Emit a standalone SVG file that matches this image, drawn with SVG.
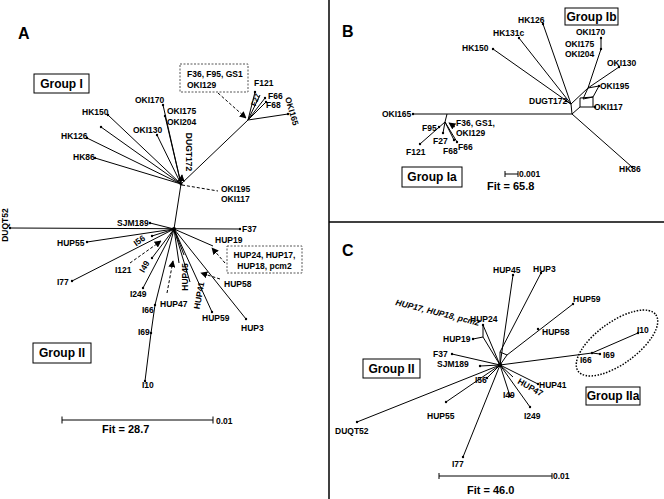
<svg xmlns="http://www.w3.org/2000/svg" width="664" height="499" viewBox="0 0 664 499">
<defs>
<style>
text{font-family:"Liberation Sans",Arial,sans-serif;font-weight:bold;fill:#000}
.l{font-size:8.5px}
.s{font-size:7.5px}
.g{font-size:12px}
.fit{font-size:11px}
.p{font-size:16px}
.e line,.e path,.e polyline,.e polygon{stroke:#000;stroke-width:1;fill:none}
.d{stroke:#000;stroke-width:1;stroke-dasharray:3,2;fill:none}
.box{fill:#fff;stroke:#000;stroke-width:1}
.dbox{fill:#fff;stroke:#555;stroke-width:1;stroke-dasharray:2,1.5}
.dot{fill:#000}
</style>
<marker id="ah" viewBox="0 0 10 10" refX="9" refY="5" markerWidth="7" markerHeight="7" orient="auto-start-reverse" markerUnits="userSpaceOnUse"><path d="M0,0 L10,5 L0,10 z" fill="#000"/></marker>
</defs>
<rect width="664" height="499" fill="#fff"/>
<g id="frame" stroke="#000" stroke-width="1.5">
<line x1="329" y1="0" x2="329" y2="499"/>
<line x1="329" y1="222" x2="664" y2="222"/>
</g>

<!-- PANEL A -->
<g id="panelA">
<text class="p" x="18" y="39">A</text>
<g id="connectorsA" class="e">
<line x1="181" y1="184" x2="163" y2="105"/>
<line x1="181" y1="184" x2="165" y2="116"/>
<line x1="181" y1="184" x2="157" y2="135"/>
<line x1="181" y1="184" x2="108" y2="115"/>
<line x1="181" y1="184" x2="101" y2="127"/>
<line x1="181" y1="184" x2="87" y2="138"/>
<line x1="181" y1="184" x2="95" y2="158"/>
<line x1="181" y1="184" x2="248" y2="120"/>
<line x1="181" y1="184" x2="174" y2="229"/>
<line x1="181" y1="184" x2="182" y2="175" marker-end="url(#ah)"/>
<line x1="248" y1="120" x2="255" y2="92"/>
<line x1="248" y1="120" x2="260" y2="95"/>
<line x1="248" y1="120" x2="265" y2="98"/>
<line x1="248" y1="120" x2="266" y2="102"/>
<line x1="248" y1="120" x2="288" y2="114"/>
<line x1="10" y1="228" x2="240" y2="229"/>
<line x1="174" y1="229" x2="150" y2="223"/>
<line x1="174" y1="229" x2="87" y2="242"/>
<line x1="174" y1="229" x2="72" y2="281"/>
<line x1="174" y1="229" x2="152" y2="236"/>
<line x1="174" y1="229" x2="152" y2="258"/>
<line x1="174" y1="229" x2="143" y2="288"/>
<polyline points="174,229 155,305 151,333 145,381"/>
<line x1="174" y1="229" x2="179" y2="263"/>
<line x1="174" y1="229" x2="190" y2="282"/>
<line x1="174" y1="229" x2="212" y2="312"/>
<line x1="174" y1="229" x2="246" y2="319"/>
<line x1="174" y1="229" x2="213" y2="246"/>
<line x1="174" y1="229" x2="184" y2="255"/>
<line class="d" x1="218" y1="93" x2="246" y2="118" marker-end="url(#ah)"/>
<line class="d" x1="182" y1="185" x2="218" y2="191"/>
<line class="d" x1="130" y1="263" x2="161" y2="241" marker-end="url(#ah)"/>
<line class="d" x1="167" y1="293" x2="173" y2="261" marker-end="url(#ah)"/>
<line class="d" x1="225" y1="263" x2="212" y2="248" marker-end="url(#ah)"/>
<line class="d" x1="220" y1="279" x2="201" y2="273" marker-end="url(#ah)"/>
</g>
<g id="dotsA" class="dot">
<circle cx="163" cy="105" r="1.2"/><circle cx="165" cy="116" r="1.2"/><circle cx="157" cy="135" r="1.2"/>
<circle cx="108" cy="115" r="1.2"/><circle cx="101" cy="127" r="1.2"/><circle cx="87" cy="138" r="1.2"/>
<circle cx="95" cy="158" r="1.2"/><circle cx="255" cy="92" r="1.2"/><circle cx="265" cy="98" r="1.2"/>
<circle cx="266" cy="102" r="1.2"/><circle cx="288" cy="114" r="1.2"/><circle cx="10" cy="228" r="1.2"/>
<circle cx="240" cy="229" r="1.2"/><circle cx="150" cy="223" r="1.2"/><circle cx="87" cy="242" r="1.2"/>
<circle cx="72" cy="281" r="1.2"/><circle cx="152" cy="236" r="1.2"/><circle cx="152" cy="258" r="1.2"/>
<circle cx="143" cy="288" r="1.2"/><circle cx="155" cy="305" r="1.2"/><circle cx="151" cy="333" r="1.2"/>
<circle cx="145" cy="381" r="1.2"/><circle cx="212" cy="312" r="1.2"/><circle cx="246" cy="319" r="1.2"/>
<circle cx="174" cy="229" r="2"/><circle cx="181" cy="184" r="1.5"/>
</g>
<g id="groupI"><rect class="box" x="34" y="74" width="55" height="19"/><text class="g" x="61.5" y="88" text-anchor="middle">Group I</text></g>
<g id="boxF36"><rect class="dbox" x="180" y="64" width="68" height="28"/><text class="l" x="187" y="77">F36, F95, GS1</text><text class="l" x="187" y="88">OKI129</text></g>
<g id="labelsA">
<text class="l" x="254" y="86">F121</text>
<text class="l" x="268" y="99">F66</text>
<text class="l" x="266" y="108">F68</text>
<text class="s" transform="rotate(-68 256 100)" x="256" y="102" text-anchor="middle">F27</text>
<text class="l" transform="rotate(74 289 112)" x="289" y="112" text-anchor="middle">OKI165</text>
<text class="l" x="135" y="103">OKI170</text>
<text class="l" x="167" y="114">OKI175</text>
<text class="l" x="167" y="125">OKI204</text>
<text class="l" x="133" y="133">OKI130</text>
<text class="l" x="82" y="115">HK150</text>
<text class="l" x="61" y="139">HK126</text>
<text class="l" x="73" y="160">HK86</text>
<text class="l" transform="rotate(90 186 152)" x="186" y="152" text-anchor="middle">DUGT172</text>
<text class="l" x="221" y="192">OKI195</text>
<text class="l" x="221" y="202">OKI117</text>
<text class="l" transform="rotate(-90 7.5 225)" x="7.5" y="225" text-anchor="middle">DUQT52</text>
<text class="l" x="242" y="232">F37</text>
<text class="l" x="117" y="226">SJM189</text>
<text class="l" x="57" y="246">HUP55</text>
<text class="l" x="57" y="285">I77</text>
<text class="l" transform="rotate(-35 141 243)" x="141" y="243" text-anchor="middle">I56</text>
<text class="l" x="115" y="273">I121</text>
<text class="l" transform="rotate(-60 147 268)" x="147" y="268" text-anchor="middle">I49</text>
<text class="l" x="130" y="297">I249</text>
<text class="l" x="142" y="313">I66</text>
<text class="l" x="138" y="335">I69</text>
<text class="l" x="142" y="388">I10</text>
<text class="l" x="160" y="307">HUP47</text>
<text class="l" transform="rotate(-90 188 277)" x="188" y="277" text-anchor="middle">HUP45</text>
<text class="l" transform="rotate(-80 202 296)" x="202" y="296" text-anchor="middle">HUP41</text>
<text class="l" x="202" y="321">HUP59</text>
<text class="l" x="241" y="331">HUP3</text>
<text class="l" x="215" y="243">HUP19</text>
<text class="l" x="224" y="287">HUP58</text>
</g>
<g id="boxHUP24"><rect class="dbox" x="227" y="246" width="75" height="27"/><text class="l" x="264.5" y="258" text-anchor="middle">HUP24, HUP17,</text><text class="l" x="264.5" y="269" text-anchor="middle">HUP18, pcm2</text></g>
<g id="groupII_A"><rect class="box" x="33" y="343" width="58" height="20"/><text class="g" x="62" y="357" text-anchor="middle">Group II</text></g>
<g id="scaleA">
<g class="e"><line x1="62" y1="420" x2="213" y2="420"/><line x1="62" y1="416.5" x2="62" y2="423.5"/><line x1="213" y1="416.5" x2="213" y2="423.5"/></g>
<text class="l" x="216" y="424">0.01</text>
<text class="fit" x="102" y="433">Fit = 28.7</text>
</g>
</g>

<!-- PANEL B -->
<g id="panelB">
<text class="p" x="342" y="37">B</text>
<g id="connectorsB" class="e">
<line x1="413" y1="114" x2="572" y2="114"/>
<line x1="572" y1="114" x2="632" y2="167"/>
<line x1="572" y1="114" x2="571" y2="104"/>
<line x1="571" y1="104" x2="493" y2="49"/>
<line x1="571" y1="104" x2="519" y2="38"/>
<line x1="571" y1="104" x2="543" y2="24"/>
<line x1="571" y1="104" x2="566" y2="101"/>
<line x1="572" y1="114" x2="580" y2="107"/>
<polygon points="580,98 593,97 593,107 580,107"/>
<line x1="571" y1="104" x2="588" y2="88"/>
<polygon points="588,88 599,86 593,97 583,99"/>
<polyline points="588,88 601,49 601,38"/>
<line x1="588" y1="88" x2="619" y2="67"/>
<line x1="593" y1="107" x2="595" y2="107"/>
<line x1="447" y1="114" x2="445" y2="122"/>
<line x1="445" y1="122" x2="420" y2="144"/>
<line x1="445" y1="122" x2="443" y2="133"/>
<line x1="445" y1="122" x2="454" y2="140"/>
<line x1="445" y1="122" x2="457" y2="142"/>
<line x1="455" y1="127" x2="449" y2="123" marker-end="url(#ah)"/>
</g>
<g class="dot">
<circle cx="413" cy="114" r="1.2"/><circle cx="632" cy="167" r="1.2"/><circle cx="493" cy="49" r="1.2"/>
<circle cx="519" cy="38" r="1.2"/><circle cx="543" cy="24" r="1.2"/><circle cx="566" cy="101" r="1.2"/>
<circle cx="601" cy="49" r="1.2"/><circle cx="601" cy="38" r="1.2"/><circle cx="619" cy="67" r="1.2"/>
<circle cx="599" cy="86" r="1.2"/><circle cx="595" cy="107" r="1.2"/><circle cx="420" cy="144" r="1.2"/>
<circle cx="439" cy="127" r="1.2"/><circle cx="443" cy="133" r="1.2"/><circle cx="454" cy="140" r="1.2"/>
<circle cx="457" cy="142" r="1.2"/>
</g>
<g id="labelsB">
<text class="l" x="518" y="23">HK126</text>
<text class="l" x="493" y="36">HK131c</text>
<text class="l" x="462" y="51">HK150</text>
<text class="l" x="576" y="35">OKI170</text>
<text class="l" x="565" y="47">OKI175</text>
<text class="l" x="565" y="57">OKI204</text>
<text class="l" x="607" y="66">OKI130</text>
<text class="l" x="600" y="89">OKI195</text>
<text class="l" x="529" y="104">DUGT172</text>
<text class="l" x="594" y="110">OKI117</text>
<text class="l" x="382" y="117">OKI165</text>
<text class="l" x="619" y="172">HK86</text>
<text class="l" x="422" y="131">F95</text>
<text class="l" x="433" y="144">F27</text>
<text class="l" x="406" y="155">F121</text>
<text class="l" x="443" y="154">F68</text>
<text class="l" x="458" y="150">F66</text>
<text class="l" x="456" y="126">F36, GS1,</text>
<text class="l" x="456" y="136">OKI129</text>
</g>
<g id="groupIb"><rect class="box" x="565" y="8" width="53" height="17"/><text class="g" x="591.5" y="21" text-anchor="middle">Group Ib</text></g>
<g id="groupIa"><rect class="box" x="402" y="167" width="60" height="20"/><text class="g" x="432" y="181" text-anchor="middle">Group Ia</text></g>
<g id="scaleB">
<g class="e"><line x1="505" y1="174" x2="518" y2="174"/><line x1="505" y1="171" x2="505" y2="177"/><line x1="518" y1="171" x2="518" y2="177"/></g>
<text class="l" x="519" y="177">0.001</text>
<text class="fit" x="487" y="190">Fit = 65.8</text>
</g>
</g>

<!-- PANEL C -->
<g id="panelC">
<text class="p" x="342" y="256">C</text>
<g id="connectorsC" class="e">
<line x1="500" y1="365" x2="513" y2="275"/>
<polyline points="500,365 500,352 541,273"/>
<polyline points="500,365 507,355 573,304"/>
<line x1="500" y1="352" x2="507" y2="355"/>
<line x1="500" y1="365" x2="483" y2="325"/>
<line x1="500" y1="365" x2="483" y2="337"/>
<line x1="483" y1="325" x2="483" y2="337"/>
<line x1="483" y1="337" x2="473" y2="339"/>
<line x1="500" y1="365" x2="452" y2="354"/>
<line x1="500" y1="365" x2="480" y2="366"/>
<line x1="500" y1="365" x2="592" y2="353"/>
<line x1="592" y1="353" x2="638" y2="333"/>
<line x1="592" y1="353" x2="600" y2="354"/>
<line x1="500" y1="365" x2="538" y2="384"/>
<line x1="500" y1="365" x2="513" y2="377"/>
<line x1="500" y1="365" x2="530" y2="407"/>
<line x1="500" y1="365" x2="510" y2="396"/>
<line x1="500" y1="365" x2="487" y2="378"/>
<line x1="500" y1="365" x2="446" y2="402"/>
<line x1="500" y1="365" x2="357" y2="422"/>
<line x1="500" y1="365" x2="463" y2="457"/>
</g>
<g class="dot">
<circle cx="500" cy="365" r="2.2"/>
<circle cx="513" cy="275" r="1.2"/><circle cx="541" cy="273" r="1.2"/><circle cx="573" cy="304" r="1.2"/>
<circle cx="538" cy="329" r="1.2"/><circle cx="483" cy="325" r="1.2"/><circle cx="473" cy="339" r="1.2"/>
<circle cx="452" cy="354" r="1.2"/><circle cx="480" cy="366" r="1.2"/><circle cx="592" cy="353" r="1.2"/>
<circle cx="638" cy="333" r="1.2"/><circle cx="600" cy="354" r="1.2"/><circle cx="538" cy="384" r="1.2"/>
<circle cx="530" cy="407" r="1.2"/><circle cx="510" cy="396" r="1.2"/><circle cx="487" cy="378" r="1.2"/>
<circle cx="446" cy="402" r="1.2"/><circle cx="357" cy="422" r="1.2"/><circle cx="463" cy="457" r="1.2"/>
</g>
<ellipse id="ellipseIIa" cx="617" cy="343" rx="48" ry="21" transform="rotate(-36 617 343)" fill="none" stroke="#000" stroke-width="1.5" stroke-dasharray="1.5,1.5"/>
<g id="labelsC">
<text class="l" x="493" y="273">HUP45</text>
<text class="l" x="533" y="272">HUP3</text>
<text class="l" x="573" y="302">HUP59</text>
<text class="l" x="542" y="335">HUP58</text>
<text class="l" x="470" y="322">HUP24</text>
<text class="l" x="443" y="342">HUP19</text>
<text class="l" font-style="italic" transform="rotate(14 395 305)" x="395" y="305">HUP17, HUP18, pcm2</text>
<text class="l" x="433" y="357">F37</text>
<text class="l" x="437" y="367">SJM189</text>
<text class="l" x="580" y="363">I66</text>
<text class="l" x="603" y="358">I69</text>
<text class="l" x="637" y="333">I10</text>
<text class="l" x="539" y="388">HUP41</text>
<text class="l" transform="rotate(30 517 383)" x="517" y="383">HUP47</text>
<text class="l" x="524" y="419">I249</text>
<text class="l" x="503" y="398">I49</text>
<text class="l" x="475" y="383">I56</text>
<text class="l" x="427" y="419">HUP55</text>
<text class="l" x="335" y="434">DUQT52</text>
<text class="l" x="452" y="467">I77</text>
</g>
<g id="groupII_C"><rect class="box" x="363" y="359" width="57" height="19"/><text class="g" x="391.5" y="373" text-anchor="middle">Group II</text></g>
<g id="groupIIa"><rect class="box" x="586" y="387" width="54" height="18"/><text class="g" x="613" y="400" text-anchor="middle">Group IIa</text></g>
<g id="scaleC">
<g class="e"><line x1="439" y1="476" x2="552" y2="476" stroke="#555"/><line x1="439" y1="473" x2="439" y2="479"/><line x1="552" y1="473" x2="552" y2="479"/></g>
<text class="l" x="553" y="479">0.01</text>
<text class="fit" x="467" y="494">Fit = 46.0</text>
</g>
</g>
</svg>
